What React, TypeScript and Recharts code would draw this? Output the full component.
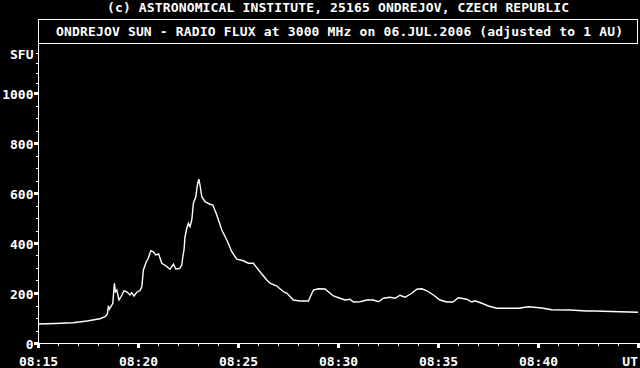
import React from 'react';
import { LineChart, Line, XAxis, YAxis, Customized } from 'recharts';

const headerText = '(c) ASTRONOMICAL INSTITUTE, 25165 ONDREJOV, CZECH REPUBLIC';
const titleText = 'ONDREJOV SUN - RADIO FLUX at 3000 MHz on 06.JUL.2006 (adjusted to 1 AU)';

// time in minutes after 08:00 UT
const minutes = [
  15.0, 15.85, 16.75, 17.45, 18.1, 18.35, 18.47, 18.52, 18.57, 18.64, 18.74, 18.82, 18.87, 18.94,
  19.05, 19.15, 19.3, 19.44, 19.6, 19.69, 19.8, 19.94, 20.1, 20.19, 20.27, 20.4, 20.52, 20.64,
  20.77, 20.89, 21.03, 21.19, 21.4, 21.6, 21.77, 21.89, 22.08, 22.19, 22.24, 22.3, 22.35, 22.44,
  22.52, 22.6, 22.69, 22.77, 22.89, 22.97, 23.04, 23.1, 23.19, 23.35, 23.6, 23.74, 23.94, 24.19,
  24.44, 24.69, 24.94, 25.27, 25.52, 25.77, 26.1, 26.44, 26.6, 26.94, 27.27, 27.45, 27.77, 28.1,
  28.52, 28.77, 29.02, 29.35, 29.77, 30.1, 30.35, 30.6, 30.77, 31.1, 31.44, 31.77, 32.02, 32.27,
  32.6, 32.85, 33.1, 33.35, 33.69, 33.94, 34.19, 34.44, 34.77, 35.1, 35.44, 35.74, 36.02, 36.44,
  36.69, 36.85, 37.19, 37.52, 37.94, 39.02, 39.52, 40.19, 40.69, 41.6, 42.44, 42.85, 44.1, 45.0,
];

// solar flux units
const flux = [
  76, 78, 81, 88, 97, 105, 116, 149, 135, 145, 159, 239, 205, 212,
  172, 185, 209, 205, 192, 201, 188, 203, 210, 225, 292, 322, 340, 369,
  365, 352, 356, 319, 308, 295, 315, 296, 298, 312, 345, 372, 425, 459,
  479, 465, 492, 559, 585, 632, 655, 632, 585, 565, 555, 552, 512, 452,
  412, 365, 335, 329, 319, 319, 285, 252, 239, 228, 205, 199, 172, 168,
  168, 212, 217, 216, 188, 179, 172, 175, 164, 165, 172, 172, 165, 179,
  183, 179, 191, 183, 199, 215, 217, 209, 192, 172, 164, 164, 181, 175,
  164, 169, 159, 148, 139, 139, 145, 140, 133, 132, 128, 128, 125, 123,
];

const xMajorTicks = [15, 20, 25, 30, 35, 40, 45];
const xMajorLabels = ['08:15', '08:20', '08:25', '08:30', '08:35', '08:40', 'UT'];
const xMinuteTicks = [
  15, 16, 17, 18, 19, 20, 21, 22, 23, 24, 25, 26, 27, 28, 29, 30,
  31, 32, 33, 34, 35, 36, 37, 38, 39, 40, 41, 42, 43, 44, 45,
];

const yMajorTicks = [0, 200, 400, 600, 800, 1000];
const yMajorLabels = ['0', '200', '400', '600', '800', '1000'];
const yMinorTicks = [
  50, 100, 150, 250, 300, 350, 450, 500, 550, 650, 700, 750, 850, 900, 950, 1040, 1080, 1120,
];
const yUnitTick = 1160;
const yUnitLabel = 'SFU';

const data = minutes.map((t, i) => ({ t, v: flux[i] }));

const FONT = '"DejaVu Sans Mono", "Liberation Mono", monospace';
const textStyle = { fontFamily: FONT, fontSize: 13, fontWeight: 700 } as const;

const XTick = (props: any) => {
  const { x, y, payload } = props;
  const v = payload.value;
  const px = Math.round(x);
  const py = Math.round(y);
  const idx = xMajorTicks.indexOf(v);
  if (idx >= 0) {
    const isLast = idx === xMajorTicks.length - 1;
    return (
      <g>
        <rect x={px - 1} y={py} width={3} height={5} fill="#fff" shapeRendering="crispEdges" />
        <text
          x={isLast ? px + 0 : px + 0.5}
          y={py + 22.5}
          textAnchor={isLast ? 'end' : 'middle'}
          fill="#fff"
          style={textStyle}
        >
          {xMajorLabels[idx]}
        </text>
      </g>
    );
  }
  return <rect x={px} y={py} width={1} height={3} fill="#fff" shapeRendering="crispEdges" />;
};

const TopTick = (props: any) => {
  const { x, y } = props;
  return (
    <rect x={Math.round(x)} y={Math.round(y)} width={1} height={3} fill="#fff" shapeRendering="crispEdges" />
  );
};

const YTick = (props: any) => {
  const { x, y, payload } = props;
  const v = payload.value;
  const px = Math.round(x);
  const py = Math.round(y);
  const idx = yMajorTicks.indexOf(v);
  if (idx >= 0) {
    return (
      <g>
        <rect x={px - 4} y={py - 1} width={4} height={3} fill="#fff" shapeRendering="crispEdges" />
        <text x={px - 4.5} y={py + 5.5} textAnchor="end" fill="#fff" style={textStyle}>
          {yMajorLabels[idx]}
        </text>
      </g>
    );
  }
  if (v === yUnitTick) {
    return (
      <g>
        <rect x={px - 2} y={py} width={2} height={1} fill="#fff" shapeRendering="crispEdges" />
        <text x={px - 4.5} y={py + 5.5} textAnchor="end" fill="#fff" style={textStyle}>
          {yUnitLabel}
        </text>
      </g>
    );
  }
  return <rect x={px - 2} y={py} width={2} height={1} fill="#fff" shapeRendering="crispEdges" />;
};

const TitleBox = (props: any) => {
  return (
    <g>
      <text x={338} y={12} textAnchor="middle" fill="#fff" style={textStyle} textLength={462} lengthAdjust="spacing">
        {headerText}
      </text>
      <rect x={38.5} y={19.5} width={599} height={24} fill="none" stroke="#fff" strokeWidth={1} shapeRendering="crispEdges" />
      <text x={339.5} y={35.5} textAnchor="middle" fill="#fff" style={textStyle} textLength={567} lengthAdjust="spacing">
        {titleText}
      </text>
    </g>
  );
};

export default function App() {
  return (
    <div style={{ width: 640, height: 368, background: '#000', overflow: 'hidden' }}>
      <style>{`body{margin:0;background:#000;}`}</style>
      <LineChart
        width={640}
        height={368}
        data={data}
        margin={{ top: 43, right: 2, bottom: 0, left: 0 }}
        style={{ background: '#000' }}
      >
        <Customized component={TitleBox} />
        <XAxis
          dataKey="t"
          type="number"
          domain={[15, 45]}
          ticks={xMinuteTicks}
          interval={0}
          height={25}
          tickSize={0}
          tickMargin={0}
          tickLine={false}
          axisLine={{ stroke: '#fff', strokeWidth: 1, shapeRendering: 'crispEdges' }}
          tick={<XTick />}
          allowDataOverflow
        />
        <XAxis
          xAxisId="top"
          orientation="top"
          dataKey="t"
          type="number"
          domain={[15, 45]}
          ticks={xMinuteTicks}
          interval={0}
          height={0}
          mirror
          tickSize={0}
          tickMargin={0}
          tickLine={false}
          axisLine={{ stroke: '#fff', strokeWidth: 1, shapeRendering: 'crispEdges' }}
          tick={<TopTick />}
        />
        <YAxis
          type="number"
          domain={[0, 1200]}
          ticks={[...yMajorTicks, ...yMinorTicks, yUnitTick]}
          interval={0}
          width={38}
          tickSize={0}
          tickMargin={0}
          tickLine={false}
          axisLine={{ stroke: '#fff', strokeWidth: 1, shapeRendering: 'crispEdges' }}
          tick={<YTick />}
          allowDataOverflow
        />
        <Line
          type="linear"
          dataKey="v"
          stroke="#fff"
          strokeWidth={1.4}
          dot={false}
          isAnimationActive={false}
        />
      </LineChart>
    </div>
  );
}
